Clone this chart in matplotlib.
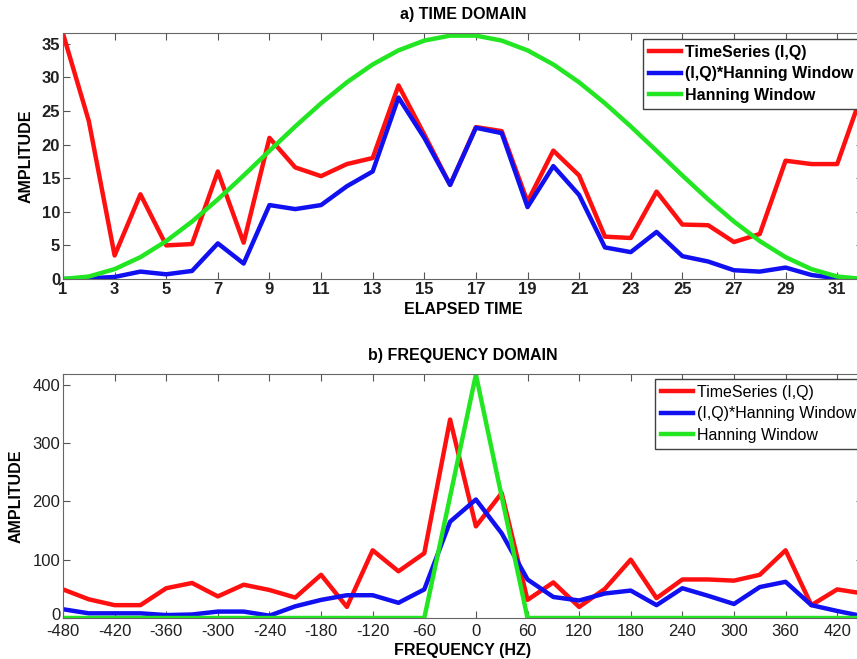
import matplotlib
matplotlib.use("Agg")
import matplotlib.pyplot as plt
import matplotlib.transforms as mtransforms

plt.rcParams['font.family'] = ['Liberation Sans', 'DejaVu Sans']
plt.rcParams['axes.unicode_minus'] = False

# a) time domain, samples 1..32
t = list(range(1, 33))
ts_time = [36.5, 23.5, 3.5, 12.6, 5.0, 5.2, 16.0, 5.4, 21.0, 16.6, 15.3, 17.1,
           18.0, 28.8, 21.5, 14.0, 22.6, 22.0, 11.5, 19.1, 15.4, 6.3, 6.1, 13.0,
           8.1, 8.0, 5.5, 6.7, 17.6, 17.1, 17.1, 28.0]
win_time = [0.0, 0.1, 0.3, 1.1, 0.7, 1.2, 5.3, 2.3, 11.0, 10.4, 11.0, 13.8,
            16.0, 27.0, 21.0, 14.0, 22.5, 21.7, 10.7, 16.8, 12.5, 4.7, 4.0, 7.0,
            3.4, 2.6, 1.3, 1.1, 1.7, 0.6, 0.1, 0.0]
hann_time = [0.0, 0.37, 1.47, 3.25, 5.64, 8.55, 11.84, 15.40, 19.07, 22.70,
             26.14, 29.26, 31.92, 34.02, 35.47, 36.21, 36.21, 35.47, 34.02,
             31.92, 29.26, 26.14, 22.70, 19.07, 15.40, 11.84, 8.55, 5.64,
             3.25, 1.47, 0.37, 0.0]

# b) frequency domain, -480..450 Hz
f = list(range(-480, 451, 30))
ts_freq = [49, 32, 22, 22, 51, 60, 37, 57, 48, 35, 74, 19, 116, 80, 111, 340,
           157, 214, 31, 61, 19, 50, 100, 34, 66, 66, 64, 74, 116, 22, 49, 42]
win_freq = [15, 8, 8, 8, 5, 6, 11, 11, 4, 20, 31, 39, 39, 26, 49, 165,
            203, 145, 66, 36, 30, 42, 47, 22, 51, 38, 24, 53, 62, 22, 12, 3]
hann_freq = [0, 0, 0, 0, 0, 0, 0, 0, 0, 0, 0, 0, 0, 0, 0, 208,
             417, 208, 0, 0, 0, 0, 0, 0, 0, 0, 0, 0, 0, 0, 0, 0]

labels = ['TimeSeries (I,Q)', '(I,Q)*Hanning Window', 'Hanning Window']
red = '#ff1010'
blue = '#1010f0'
green = '#22e622'

fig = plt.figure(figsize=(8.57, 6.59), dpi=100)

# top panel
ax1 = fig.add_axes([63/857, 1-279/659, 800/857, 246/659])
ax1.plot(t, ts_time, color=red, lw=3.2, label=labels[0])
ax1.plot(t, win_time, color=blue, lw=3.2, label=labels[1])
ax1.plot(t, hann_time, color=green, lw=3.2, label=labels[2])
ax1.set_xlim(1, 32)
ax1.set_ylim(0, 36.6)
ax1.set_xticks(range(1, 32, 2))
ax1.set_yticks(range(0, 36, 5))
ax1.set_title('a) TIME DOMAIN', fontsize=11.5, fontweight='bold', pad=10)
ax1.set_xlabel('ELAPSED TIME', fontsize=11.5, fontweight='bold', labelpad=4)
ax1.set_ylabel('AMPLITUDE', fontsize=11.5, fontweight='bold', labelpad=6)
for lab in ax1.get_xticklabels() + ax1.get_yticklabels():
    lab.set_fontweight('bold')
ax1.tick_params(labelsize=12, pad=2)
ax1.legend(loc='upper left', bbox_to_anchor=(643/857, 1-39/659),
           bbox_transform=fig.transFigure, prop={'size': 11.5, 'weight': 'bold'},
           fancybox=False, edgecolor='#404040', framealpha=1,
           handlelength=2.0, handletextpad=0.25, labelspacing=0.42,
           borderpad=0.35, borderaxespad=0)

# bottom panel
ax2 = fig.add_axes([63/857, 1-618/659, 800/857, 244/659])
ax2.plot(f, ts_freq, color=red, lw=3.2, label=labels[0])
ax2.plot(f, win_freq, color=blue, lw=3.2, label=labels[1])
ax2.plot(f, hann_freq, color=green, lw=3.2, label=labels[2])
ax2.set_xlim(-480, 450)
ax2.set_ylim(0, 418)
ax2.set_xticks(range(-480, 421, 60))
ax2.set_yticks(range(0, 401, 100))
ax2.set_title('b) FREQUENCY DOMAIN', fontsize=11.5, fontweight='bold', pad=10)
ax2.set_xlabel('FREQUENCY (HZ)', fontsize=11.5, fontweight='bold', labelpad=3)
ax2.set_ylabel('AMPLITUDE', fontsize=11.5, fontweight='bold', labelpad=6)
ax2.tick_params(labelsize=12, pad=2)
ax2.tick_params(axis='x', pad=4)
ax2.legend(loc='upper left', bbox_to_anchor=(655/857, 1-379/659),
           bbox_transform=fig.transFigure, prop={'size': 11.5},
           fancybox=False, edgecolor='#404040', framealpha=1,
           handlelength=2.0, handletextpad=0.25, labelspacing=0.42,
           borderpad=0.35, borderaxespad=0)

for ax in (ax1, ax2):
    ax.tick_params(direction='in', top=True, right=True, length=5,
                   color='#555555', labelcolor='#202020')
    for s in ax.spines.values():
        s.set_color('#666666')

# lift the "0" of the lower panel a little, as in the original
fig.canvas.draw()
zero = ax2.get_yticklabels()[0]
zero.set_transform(zero.get_transform() +
                   mtransforms.ScaledTranslation(0, 3/72, fig.dpi_scale_trans))

fig.savefig('out.png', dpi=100)
